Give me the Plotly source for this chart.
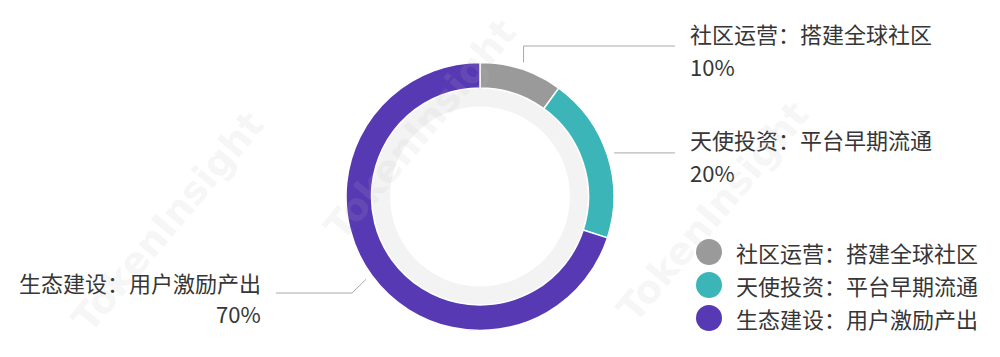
import math
import plotly.graph_objects as go

# ---- data ----
labels = ["社区运营：搭建全球社区", "天使投资：平台早期流通", "生态建设：用户激励产出"]
values = [10, 20, 70]
pct_text = ["10%", "20%", "70%"]
colors = ["#9a9a9a", "#3cb5b8", "#5839b4"]

# ---- layout constants (pixels) ----
W, H = 1000, 357
cx, cy, R = 480, 196.5, 134
R_bg, r_bg = 108, 90
FONT = "Noto Sans CJK SC"
TXT = "#363636"
LINE = "#a8a8a8"
FS = 22


def px(x):
    return x / W


def py(y):
    return 1 - y / H


fig = go.Figure()

# light background ring inside the donut
fig.add_trace(go.Pie(
    values=[1], labels=["bg"], hole=r_bg / R_bg, sort=False,
    marker=dict(colors=["#f3f3f3"], line=dict(width=0)),
    textinfo="none", hoverinfo="skip", showlegend=False,
    domain=dict(x=[px(cx - R_bg), px(cx + R_bg)], y=[py(cy + R_bg), py(cy - R_bg)]),
))

# main donut
fig.add_trace(go.Pie(
    values=values, labels=labels, hole=(R_bg + 0.5) / R, sort=False,
    direction="clockwise", rotation=0,
    marker=dict(colors=colors, line=dict(color="white", width=1.5)),
    textinfo="none", showlegend=False,
    domain=dict(x=[px(cx - R), px(cx + R)], y=[py(cy + R), py(cy - R)]),
))

# anchor points of leader lines computed from the data
total = sum(values)
anchors = []
cum = 0
for v in values:
    mid = (cum + v / 2) / total * 2 * math.pi
    cum += v
    r = R + 7
    anchors.append((cx + r * math.sin(mid), cy - r * math.cos(mid)))

shapes = []
# leader line 1 (up then right)
ax, ay = anchors[0]
shapes.append(dict(type="path", xref="paper", yref="paper",
                   path=f"M {px(ax)} {py(ay)} L {px(ax)} {py(46)} L {px(675)} {py(46)}",
                   line=dict(color=LINE, width=1)))
# leader line 2 (right)
ax, ay = anchors[1]
shapes.append(dict(type="path", xref="paper", yref="paper",
                   path=f"M {px(ax)} {py(ay)} L {px(675)} {py(ay)}",
                   line=dict(color=LINE, width=1)))
# leader line 3 (down-left then left)
ax, ay = anchors[2]
shapes.append(dict(type="path", xref="paper", yref="paper",
                   path=f"M {px(ax)} {py(ay)} L {px(352)} {py(293)} L {px(276)} {py(293)}",
                   line=dict(color=LINE, width=1)))

# legend circles
leg_rows = [252, 285, 318]
for c, y in zip(colors, leg_rows):
    shapes.append(dict(type="circle", xref="paper", yref="paper",
                       x0=px(709 - 13), x1=px(709 + 13), y0=py(y + 13), y1=py(y - 13),
                       fillcolor=c, line=dict(width=0)))

annotations = []
label_pos = [
    (688, 33, 66, "left"),
    (688, 139, 172, "left"),
    (263, 282, 313, "right"),
]
for lab, pt, (x, y1, y2, anc) in zip(labels, pct_text, label_pos):
    annotations.append(dict(x=px(x), y=py(y1), xref="paper", yref="paper", text=lab,
                            showarrow=False, xanchor=anc, yanchor="middle",
                            font=dict(family=FONT, size=FS, color=TXT)))
    annotations.append(dict(x=px(x), y=py(y2), xref="paper", yref="paper", text=pt,
                            showarrow=False, xanchor=anc, yanchor="middle",
                            font=dict(family=FONT, size=FS, color=TXT)))

for lab, y in zip(labels, leg_rows):
    annotations.append(dict(x=px(734), y=py(y), xref="paper", yref="paper", text=lab,
                            showarrow=False, xanchor="left", yanchor="middle",
                            font=dict(family=FONT, size=FS, color=TXT)))

# faint watermark
for (wx, wy) in [(60, 100), (420, 130), (820, 90)]:
    annotations.append(dict(x=px(wx), y=py(wy), xref="paper", yref="paper", text="<b>TokenInsight</b>",
                            showarrow=False, textangle=-50,
                            font=dict(family="DejaVu Sans", size=38, color="rgba(190,190,190,0.14)")))

fig.update_layout(
    width=W, height=H, margin=dict(l=0, r=0, t=0, b=0),
    paper_bgcolor="white", plot_bgcolor="white",
    shapes=shapes, annotations=annotations, showlegend=False,
)

fig.write_html("out.html")
